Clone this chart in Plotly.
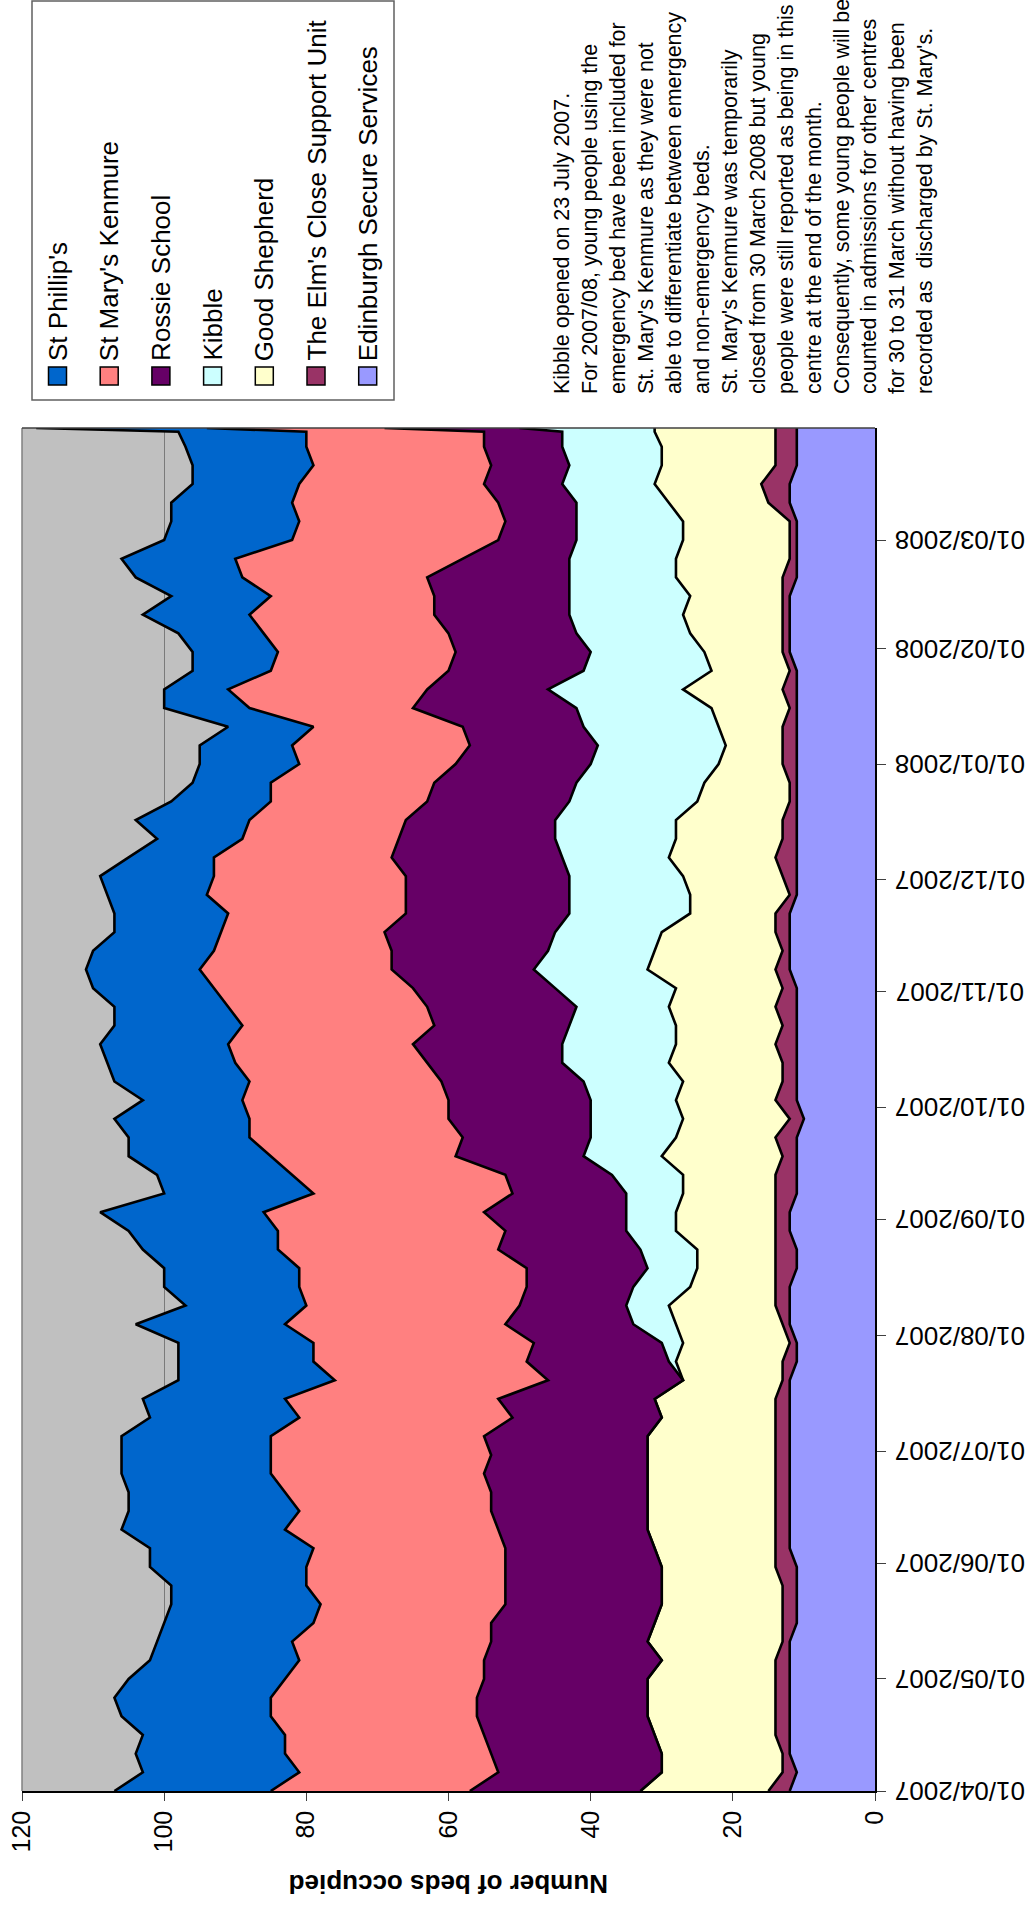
import plotly.graph_objects as go
from datetime import date, timedelta

# ---- data ----
day_offsets = [0, 5, 10, 15, 20, 25, 30, 35, 40, 45, 50, 55, 60, 65, 70, 75, 80, 85, 90, 95,
               100, 105, 110, 115, 120, 125, 130, 135, 140, 145, 150, 155, 160, 165, 170, 175,
               180, 185, 190, 195, 200, 205, 210, 215, 220, 225, 230, 235, 240, 245, 250, 255,
               260, 265, 270, 275, 280, 285, 290, 295, 300, 305, 310, 315, 320, 325, 330, 335,
               340, 345, 350, 355, 360, 364, 365]

edinburgh = [12, 11, 12, 12, 12, 12, 12, 12, 12, 11, 11, 11, 11, 12, 12, 12, 12, 12, 12, 12,
             12, 12, 12, 11, 11, 12, 12, 12, 11, 11, 12, 12, 11, 11, 11, 11,
             10, 11, 11, 11, 11, 11, 11, 11, 12, 12, 12, 12, 11, 11, 11, 11,
             11, 11, 11, 11, 11, 11, 11, 11, 11, 12, 12, 12, 12, 11, 11, 11,
             11, 12, 12, 11, 11, 11, 11]
elms = [3, 2, 1, 2, 2, 2, 2, 2, 1, 2, 2, 2, 3, 2, 2, 2, 2, 2, 2, 2,
        2, 2, 1, 2, 1, 1, 2, 2, 3, 3, 2, 2, 3, 3, 2, 3,
        2, 3, 2, 2, 3, 2, 3, 2, 2, 1, 2, 2, 1, 2, 3, 2,
        2, 1, 1, 2, 2, 2, 1, 2, 1, 1, 1, 1, 1, 2, 1, 1,
        1, 3, 4, 3, 3, 3, 3]
good_shepherd = [18, 17, 17, 17, 18, 18, 18, 16, 19, 18, 17, 17, 16, 17, 18, 18, 18, 18, 18, 18,
                 16, 17, 14, 15, 15, 15, 15, 12, 11, 11, 14, 14, 13, 13, 17, 14,
                 15, 14, 14, 16, 14, 15, 15, 15, 18, 18, 16, 12, 14, 14, 15, 15,
                 15, 13, 12, 9, 8, 9, 11, 14, 11, 11, 13, 14, 13, 15, 16, 15,
                 15, 14, 15, 16, 16, 17, 17]
kibble = [0, 0, 0, 0, 0, 0, 0, 0, 0, 0, 0, 0, 0, 0, 0, 0, 0, 0, 0, 0,
          0, 0, 0, 1, 3, 6, 6, 8, 7, 8, 7, 7, 8, 10, 11, 12,
          13, 12, 14, 15, 16, 15, 13, 17, 16, 15, 15, 17, 17, 16, 15, 17,
          17, 18, 18, 18, 18, 19, 19, 19, 18, 16, 16, 16, 17, 15, 15, 15,
          15, 13, 13, 13, 14, 13, 19]
rossie = [24, 23, 24, 24, 24, 24, 23, 25, 22, 23, 22, 22, 22, 21, 21, 22, 22, 23, 22, 23,
          21, 22, 19, 20, 18, 18, 15, 15, 17, 20, 17, 20, 16, 15, 18, 18,
          20, 20, 20, 19, 21, 19, 21, 20, 20, 22, 24, 23, 23, 23, 24, 22,
          21, 20, 20, 19, 18, 17, 23, 17, 19, 19, 18, 19, 19, 20, 15, 11,
          10, 11, 11, 11, 11, 11, 19]
st_marys = [28, 28, 29, 28, 29, 29, 28, 26, 28, 25, 26, 28, 28, 27, 30, 27, 29, 30, 31, 30,
            30, 30, 30, 30, 31, 31, 30, 32, 32, 31, 32, 31, 28, 30, 26, 30,
            28, 29, 27, 27, 26, 27, 28, 28, 27, 25, 23, 25, 28, 27, 25, 22,
            22, 22, 23, 22, 25, 21, 23, 28, 25, 25, 26, 26, 23, 26, 32, 29,
            29, 29, 26, 25, 25, 25, 25]
st_phillips = [22, 22, 21, 20, 21, 22, 22, 21, 19, 21, 21, 19, 22, 23, 23, 24, 22, 21, 21, 21,
               21, 20, 22, 19, 19, 21, 17, 19, 19, 19, 21, 23, 21, 19, 20, 17,
               19, 14, 19, 18, 18, 18, 16, 17, 16, 17, 15, 16, 14, 16, 12, 12,
               16, 14, 11, 14, 13, 12, 12, 9, 11, 12, 12, 15, 14, 15, 16, 18,
               18, 17, 15, 17, 17, 18, 24]

series_names = ["Edinburgh Secure Services", "The Elm's Close Support Unit", "Good Shepherd",
                "Kibble", "Rossie School", "St Mary's Kenmure", "St Phillip's"]
series_values = [edinburgh, elms, good_shepherd, kibble, rossie, st_marys, st_phillips]
series_colors = ["#9999FF", "#993366", "#FFFFCC", "#CCFFFF", "#660066", "#FF8080", "#0066CC"]

legend_order = ["St Phillip's", "St Mary's Kenmure", "Rossie School", "Kibble", "Good Shepherd",
                "The Elm's Close Support Unit", "Edinburgh Secure Services"]

value_ticks = [0, 20, 40, 60, 80, 100, 120]
date_ticks = ["2007-04-01", "2007-05-01", "2007-06-01", "2007-07-01", "2007-08-01",
              "2007-09-01", "2007-10-01", "2007-11-01", "2007-12-01", "2008-01-01",
              "2008-02-01", "2008-03-01"]
date_tick_labels = ["01/04/2007", "01/05/2007", "01/06/2007", "01/07/2007", "01/08/2007",
                    "01/09/2007", "01/10/2007", "01/11/2007", "01/12/2007", "01/01/2008",
                    "01/02/2008", "01/03/2008"]

note_lines = [
    "Kibble opened on 23 July 2007.",
    "For 2007/08, young people using the",
    "emergency bed have been included for",
    "St. Mary's Kenmure as they were not",
    "able to differentiate between emergency",
    "and non-emergency beds.",
    "St. Mary's Kenmure was temporarily",
    "closed from 30 March 2008 but young",
    "people were still reported as being in this",
    "centre at the end of the month.",
    "Consequently, some young people will be",
    "counted in admissions for other centres",
    "for 30 to 31 March without having been",
    "recorded as  discharged by St. Mary's.",
]

start = date(2007, 4, 1)
dates = [(start + timedelta(days=d)).isoformat() for d in day_offsets]

# ---- layout geometry (pixels) ----
W, H = 1036, 1906
L, R, T, B = 22, 161, 428, 115
PW, PH = W - L - R, H - T - B


def px(X):
    return (X - L) / PW


def py(Y):
    return (H - B - Y) / PH


FONT = "Liberation Sans, Arial, sans-serif"

fig = go.Figure()
for name, vals, col in zip(series_names, series_values, series_colors):
    fig.add_trace(go.Scatter(
        x=vals, y=dates, name=name, stackgroup="one", orientation="h",
        mode="lines", line=dict(color="black", width=2.6, shape="linear"),
        fillcolor=col, showlegend=False, hoverinfo="skip"))

fig.update_layout(
    width=W, height=H,
    margin=dict(l=L, r=R, t=T, b=B, autoexpand=False),
    paper_bgcolor="white", plot_bgcolor="#C0C0C0",
    font=dict(family=FONT, color="black"),
    xaxis=dict(range=[120, 0], tickvals=value_ticks, tickangle=-90,
               ticks="outside", ticklen=8, tickcolor="#404040", tickwidth=1,
               showline=True, linecolor="black", linewidth=1.5,
               showgrid=True, gridcolor="#7a7a7a", gridwidth=1, zeroline=False,
               tickfont=dict(size=25, family=FONT, color="black")),
    yaxis=dict(type="date", range=["2007-04-01", "2008-03-31"], side="right",
               tickvals=date_ticks, showticklabels=False,
               ticks="outside", ticklen=9, tickcolor="#404040", tickwidth=1,
               showline=True, linecolor="black", linewidth=2,
               showgrid=False, zeroline=False),
)

shapes = []
# gray plot-area border on left and top
shapes.append(dict(type="line", xref="paper", yref="paper", x0=0, x1=0, y0=0, y1=1,
                   line=dict(color="#808080", width=1.5), layer="above"))
shapes.append(dict(type="line", xref="paper", yref="paper", x0=0, x1=1, y0=1, y1=1,
                   line=dict(color="#404040", width=1.5), layer="above"))
# legend box
shapes.append(dict(type="rect", xref="paper", yref="paper",
                   x0=px(32), x1=px(394), y0=py(400), y1=py(1),
                   line=dict(color="#606060", width=1.5), fillcolor="white"))

annotations = []
color_of = dict(zip(series_names, series_colors))
for i, name in enumerate(legend_order):
    cx = 57.5 + i * 51.7
    shapes.append(dict(type="rect", xref="paper", yref="paper",
                       x0=px(cx - 9), x1=px(cx + 9), y0=py(385), y1=py(367),
                       line=dict(color="black", width=1.5), fillcolor=color_of[name]))
    annotations.append(dict(text=name, xref="paper", yref="paper", x=px(cx), y=py(363),
                            xanchor="center", yanchor="bottom", textangle=-90,
                            showarrow=False, font=dict(size=26, family=FONT, color="black")))

# upside-down date tick labels to the right of the date axis
for dt, lab in zip(date_ticks, date_tick_labels):
    annotations.append(dict(text=lab, xref="paper", yref="y", x=px(960), y=dt,
                            xanchor="center", yanchor="middle", textangle=180,
                            showarrow=False, font=dict(size=26, family=FONT, color="black")))

annotations.append(dict(text="<br>".join(note_lines), xref="paper", yref="paper",
                        x=px(548), y=py(396), xanchor="left", yanchor="bottom",
                        textangle=-90, align="left", showarrow=False,
                        font=dict(size=21.5, family=FONT, color="black")))

annotations.append(dict(text="<b>Number of beds occupied</b>", xref="paper", yref="paper",
                        x=px(448.5), y=py(1884), xanchor="center", yanchor="middle",
                        textangle=180, showarrow=False,
                        font=dict(size=26, family=FONT, color="black")))

fig.update_layout(shapes=shapes, annotations=annotations)

fig.write_html("out.html",
               config={"displayModeBar": False},
               post_script="document.body.style.margin='0';"
                           "document.body.style.overflow='hidden';")
